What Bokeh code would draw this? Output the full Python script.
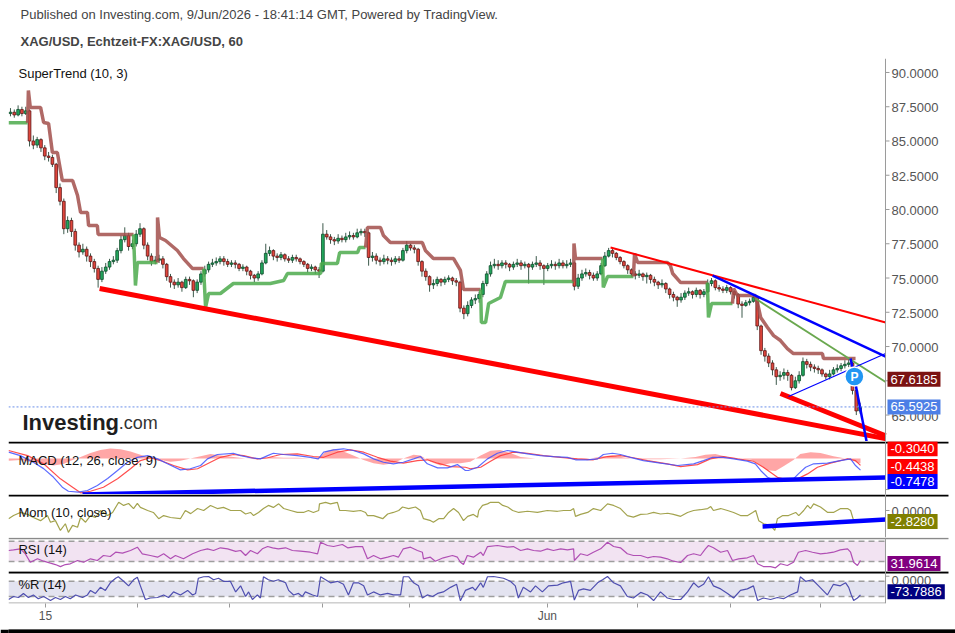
from bokeh.plotting import figure
from bokeh.models import Range1d, Span, Label, Title, FixedTicker, BoxAnnotation, ColumnDataSource
from bokeh.layouts import column
from bokeh.embed import file_html
from bokeh.resources import INLINE
from bokeh.core.properties import value

FONT = "Liberation Sans"

# ---------------- price data (2-hour bars, x = bar index) ----------------
first_open = 87.0
closes = [87.1, 86.9, 87.3, 87.0, 87.2, 85.0, 84.7, 85.1, 84.5, 83.9,
          83.8, 83.3, 81.6, 80.6, 78.6, 79.2, 78.4, 77.4, 76.9, 77.1,
          76.6, 76.2, 75.7, 74.9, 75.5, 75.8, 76.2, 76.3, 77.0, 77.8,
          78.1, 77.3, 77.5, 78.2, 78.6, 77.4, 76.6, 76.2, 76.3, 76.4,
          76.0, 75.1, 74.7, 74.5, 74.7, 74.3, 74.9, 74.8, 74.1, 74.7,
          75.3, 75.6, 76.0, 76.1, 76.2, 76.4, 76.2, 76.0, 76.1, 76.0,
          75.7, 75.8, 75.5, 75.2, 75.0, 75.3, 76.1, 76.8, 77.0, 76.6,
          76.5, 76.7, 76.4, 76.3, 76.5, 76.4, 76.2, 76.0, 75.7, 75.8,
          75.6, 75.5, 78.2, 78.0, 77.8, 77.7, 77.9, 77.8, 78.0, 78.1,
          78.0, 78.3, 78.4, 78.3, 76.5, 76.6, 76.3, 76.2, 76.4, 76.3,
          76.2, 76.4, 76.3, 77.0, 77.4, 77.2, 77.1, 76.2, 75.5, 75.1,
          74.5, 74.6, 74.9, 74.7, 74.9, 75.0, 74.8, 74.7, 72.8, 72.4,
          73.0, 73.4, 73.5, 73.8, 74.6, 75.3, 75.9, 76.0, 75.9, 76.1,
          76.0, 75.8, 76.0, 76.1, 75.9, 76.0, 75.8, 76.0, 76.1, 75.9,
          75.7, 75.9, 76.0, 75.9, 76.1, 75.9, 76.0, 76.1, 74.4, 75.0,
          75.3, 75.4, 75.2, 75.0, 75.3, 75.9, 76.6, 77.0, 76.8, 76.5,
          76.2, 75.9, 75.6, 75.3, 75.2, 75.3, 75.1, 75.2, 74.9, 74.7,
          74.5, 74.6, 74.2, 73.8, 73.6, 73.4, 73.6, 73.9, 74.0, 73.8,
          74.1, 73.8, 74.0, 74.6, 74.8, 74.3, 74.2, 74.1, 74.3, 74.0,
          73.8, 73.1, 73.0, 73.2, 73.3, 73.6, 71.5, 69.7, 69.3, 68.8,
          68.3, 67.8, 67.9, 68.1, 67.9, 67.0, 67.5, 67.9, 68.9, 68.7,
          68.5, 68.4, 68.3, 68.0, 67.8, 68.0, 68.3, 68.4, 68.6, 68.7,
          68.8, 66.8, 65.3, 65.59]
highs = [87.4, 87.3, 87.6, 87.5, 87.5, 87.3, 85.4, 85.3, 85.2, 84.7,
         84.2, 84.0, 83.4, 81.9, 80.8, 79.5, 79.4, 78.6, 77.6, 77.5,
         77.3, 76.8, 76.4, 75.9, 75.8, 76.1, 76.4, 76.6, 77.2, 78.1,
         78.7, 78.3, 77.8, 78.5, 79.0, 78.7, 77.6, 76.8, 76.6, 76.7,
         76.6, 76.1, 75.3, 74.9, 75.0, 74.8, 75.1, 75.1, 74.9, 74.9,
         75.5, 75.9, 76.2, 76.4, 76.5, 76.6, 76.6, 76.4, 76.3, 76.3,
         76.1, 76.0, 75.9, 75.6, 75.3, 75.5, 76.3, 77.5, 77.3, 77.1,
         76.8, 76.9, 76.8, 76.6, 76.7, 76.7, 76.5, 76.3, 76.1, 76.0,
         75.9, 75.8, 79.0, 78.5, 78.2, 78.0, 78.2, 78.1, 78.3, 78.4,
         78.3, 78.6, 78.6, 78.6, 78.4, 76.9, 76.8, 76.5, 76.7, 76.6,
         76.5, 76.6, 76.6, 77.2, 77.7, 77.5, 77.4, 77.2, 76.3, 75.7,
         75.2, 74.9, 75.1, 75.0, 75.1, 75.2, 75.1, 75.0, 74.8, 73.0,
         73.3, 73.6, 73.8, 74.0, 74.8, 75.5, 76.2, 76.4, 76.3, 76.3,
         76.3, 76.1, 76.2, 76.4, 76.3, 76.2, 76.1, 76.2, 76.6, 76.3,
         76.0, 76.1, 76.3, 76.2, 76.4, 76.3, 76.3, 76.4, 76.2, 75.3,
         75.6, 75.7, 75.6, 75.4, 75.5, 76.1, 76.9, 77.2, 77.2, 76.9,
         76.6, 76.3, 76.0, 75.7, 75.5, 75.6, 75.4, 75.4, 75.3, 75.1,
         74.8, 74.9, 74.7, 74.3, 74.0, 73.7, 73.9, 74.1, 74.3, 74.1,
         74.3, 74.2, 74.2, 74.9, 75.0, 74.9, 74.5, 74.4, 74.5, 74.4,
         74.1, 73.9, 73.3, 73.4, 73.5, 73.8, 73.7, 71.6, 69.9, 69.5,
         69.0, 68.5, 68.2, 68.4, 68.3, 68.0, 67.8, 68.2, 69.2, 69.1,
         68.9, 68.7, 68.6, 68.4, 68.1, 68.3, 68.5, 68.7, 68.8, 69.0,
         69.2, 68.9, 67.0, 65.9]
lows = [86.8, 86.7, 86.8, 86.8, 86.9, 84.6, 84.4, 84.5, 84.2, 83.6,
        83.5, 83.1, 81.2, 80.3, 78.2, 78.3, 78.0, 77.0, 76.5, 76.7,
        76.2, 75.8, 75.4, 74.3, 74.7, 75.3, 75.6, 76.0, 76.1, 76.8,
        77.6, 77.0, 77.1, 77.3, 78.0, 77.1, 76.3, 75.9, 76.0, 76.1,
        75.7, 74.8, 74.3, 74.2, 74.3, 74.0, 74.2, 74.5, 73.6, 73.9,
        74.5, 75.1, 75.4, 75.8, 75.9, 76.0, 75.9, 75.8, 75.8, 75.7,
        75.5, 75.5, 75.2, 74.9, 74.7, 74.8, 75.2, 76.0, 76.6, 76.3,
        76.2, 76.3, 76.2, 76.1, 76.1, 76.2, 76.0, 75.8, 75.4, 75.5,
        75.3, 75.0, 75.4, 77.8, 77.5, 77.4, 77.5, 77.6, 77.6, 77.8,
        77.8, 77.9, 78.1, 78.0, 75.9, 76.2, 76.0, 75.9, 76.0, 76.0,
        75.9, 76.0, 76.1, 76.2, 76.8, 77.0, 76.8, 75.9, 75.1, 74.8,
        74.0, 74.2, 74.4, 74.4, 74.5, 74.7, 74.5, 74.4, 72.5, 72.0,
        72.2, 72.8, 73.1, 73.2, 73.6, 74.4, 75.1, 75.7, 75.6, 75.7,
        75.7, 75.5, 75.6, 75.8, 75.6, 75.7, 74.6, 75.6, 75.8, 75.6,
        74.5, 75.5, 75.7, 75.6, 75.7, 75.7, 75.7, 75.8, 74.1, 74.2,
        74.8, 75.1, 74.9, 74.8, 74.8, 75.2, 75.8, 76.5, 76.5, 76.3,
        76.0, 75.7, 75.3, 75.1, 74.9, 75.0, 74.8, 74.6, 74.6, 74.4,
        74.2, 74.3, 73.9, 73.5, 73.3, 72.9, 73.2, 73.4, 73.7, 73.5,
        73.6, 73.5, 73.6, 73.9, 74.4, 74.1, 74.0, 73.9, 73.9, 73.8,
        73.5, 72.8, 72.1, 72.9, 73.0, 73.2, 71.2, 69.4, 68.9, 68.5,
        67.9, 67.2, 67.5, 67.6, 67.5, 66.8, 66.9, 67.3, 67.8, 68.4,
        68.2, 68.1, 68.0, 67.8, 67.6, 67.6, 67.9, 68.1, 68.2, 68.4,
        68.5, 66.5, 65.0, 65.1]

# SuperTrend (10, 3): vertices and trend (+1 up/green, -1 down/red)
st_x = [-0.5, 4.5,
        4.7, 5.2, 7.9, 8.7, 10.0, 11.0, 12.3, 13.6, 16.3, 17.6, 18.4, 20.2, 20.5, 22.8, 23.0, 32.3,
        32.8, 33.3, 38.6,
        38.6, 39.1, 40.7, 43.8, 45.4, 47.8, 50.7,
        51.2, 52.0, 55.1, 58.5, 68.2, 71.7, 72.7, 81.4, 81.6, 85.8, 86.4, 91.1, 91.6, 93.2,
        93.7, 97.1, 97.9, 99.7, 108.1, 108.9, 111.0, 116.3, 118.1, 118.9, 123.4,
        123.6, 124.7, 125.5, 128.6, 129.9, 147.8,
        147.9, 148.3, 155.4,
        155.6, 156.7, 163.5,
        163.8, 164.6, 172.4, 173.2, 173.8, 175.9, 182.9,
        183.2, 184.0, 189.5,
        189.8, 190.8, 195.5, 196.1, 196.9, 198.7, 200.3, 202.1, 203.9, 205.5, 213.1, 213.4, 221.8]
st_y = [86.33, 86.33,
        88.69, 87.45, 87.45, 86.35, 86.28, 84.16, 84.16, 82.12, 82.12, 81.02, 79.78, 79.78, 78.83, 78.83, 78.18, 78.18,
        74.45, 76.13, 76.13,
        79.42, 77.96, 77.74, 77.01, 76.42, 75.69, 75.69,
        72.85, 73.87, 73.87, 74.60, 74.60, 74.82, 75.33, 75.33, 76.06, 76.06, 76.86, 76.86, 77.23, 77.23,
        78.69, 78.69, 78.10, 77.59, 77.59, 77.01, 76.42, 76.42, 75.55, 74.16, 74.16,
        71.75, 71.75, 73.14, 73.58, 74.74, 74.74,
        77.52, 76.42, 76.42,
        74.31, 75.11, 75.11,
        76.79, 76.13, 76.13, 75.91, 75.33, 74.67, 74.67,
        72.12, 73.14, 73.14,
        74.23, 73.72, 73.72, 73.14, 72.12, 71.39, 70.80, 70.44, 69.85, 69.49, 69.49, 69.12, 69.12]
st_trend = ([1] * 2 + [-1] * 16 + [1] * 3 + [-1] * 7 + [1] * 14 + [-1] * 11 +
            [1] * 6 + [-1] * 3 + [1] * 3 + [-1] * 7 + [1] * 3 + [-1] * 13)

# drawn trend lines (bar index, price)
wedge_low_x = [23.4, 229.7]
wedge_low_y = [74.23, 63.28]
wedge_low2_x = [202.1, 229.7]
wedge_low2_y = [66.57, 63.49]
res_thin_x = [157.5, 229.7]
res_thin_y = [77.23, 71.75]
tri_up_x = [184.3, 229.7]
tri_up_y = [75.18, 69.27]
green_tl_x = [195.5, 229.7]
green_tl_y = [73.50, 67.41]
tri_low_x = [204.2, 229.7]
tri_low_y = [66.35, 69.49]
drop_tl_x = [220.5, 224.7]
drop_tl_y = [69.12, 63.07]
p_mark_x = [221.5]
p_mark_y = [67.81]
last_price = 65.5925
st_last = 67.6185
price_ticks = [65.0, 67.5, 70.0, 72.5, 75.0, 77.5, 80.0, 82.5, 85.0, 87.5, 90.0]

# MACD (12, 26, close, 9)
macd_x = [-0.5, 2.6, 6.0, 8.7, 11.3, 13.6, 15.2, 17.8, 20.2, 22.8,
          25.5, 28.1, 30.7, 33.3, 36.0, 38.6, 41.2, 44.6, 47.2, 49.9,
          51.7, 54.3, 58.5, 60.4, 63.0, 65.6, 67.5, 69.0, 71.7, 75.3,
          78.7, 80.8, 82.2, 84.8, 87.4, 90.0, 92.7, 95.3, 97.9, 100.5,
          103.1, 105.8, 107.6, 109.4, 112.1, 114.7, 117.3, 119.4, 120.2, 122.6,
          125.2, 127.8, 130.4, 133.1, 135.7, 139.1, 142.5, 146.2, 148.3, 151.4,
          154.1, 155.6, 158.0, 160.1, 162.7, 166.1, 170.6, 175.1, 179.3, 181.9,
          184.3, 187.1, 189.8, 193.4, 195.5, 196.9, 198.7, 200.3, 202.9, 205.5,
          206.8, 208.7, 210.8, 214.4, 217.8, 220.5, 221.8, 223.1]
macd_v = [0.41, 0.19, -0.24, -0.65, -1.21, -1.85, -2.11, -2.17, -2.06, -1.74,
          -1.29, -0.77, -0.24, 0.08, 0.19, -0.02, -0.34, -0.73, -0.66, -0.45,
          -0.02, 0.26, 0.34, 0.19, 0.05, -0.02, 0.19, 0.34, 0.26, 0.19,
          0.08, -0.02, 0.41, 0.56, 0.63, 0.52, 0.30, -0.02, -0.24, -0.34,
          -0.24, -0.02, 0.13, -0.34, -0.60, -0.60, -0.39, -0.77, -0.77, -0.56,
          -0.02, 0.34, 0.52, 0.41, 0.30, 0.19, 0.13, 0.08, -0.08, -0.08,
          -0.02, 0.26, 0.34, 0.26, 0.08, -0.13, -0.30, -0.45, -0.34, -0.13,
          0.08, 0.08, -0.02, -0.17, -0.34, -0.77, -1.21, -1.37, -1.37, -1.31,
          -0.99, -0.56, -0.34, -0.30, -0.13, -0.02, -0.45, -0.7478]
signal_x = [-0.5, 4.5, 8.7, 13.1, 16.3, 18.4, 21.0, 24.4, 28.1, 31.5,
            34.1, 36.7, 39.4, 42.8, 46.5, 49.1, 51.7, 55.1, 58.5, 61.2,
            64.8, 67.5, 70.9, 75.3, 79.5, 82.2, 85.8, 89.2, 92.7, 96.3,
            99.7, 103.1, 106.8, 109.4, 112.1, 115.5, 119.4, 120.7, 123.4, 126.0,
            128.6, 132.0, 135.7, 139.9, 144.4, 148.8, 153.0, 156.7, 160.1, 163.5,
            167.2, 172.4, 175.9, 180.3, 183.7, 187.1, 190.8, 195.0, 197.6, 201.3,
            203.9, 206.6, 209.2, 211.8, 215.2, 219.7, 221.8, 223.1]
signal_v = [0.52, 0.19, -0.34, -1.31, -1.85, -2.21, -2.11, -1.85, -1.31, -0.66,
            -0.13, 0.05, -0.13, -0.45, -0.73, -0.66, -0.34, 0.08, 0.26, 0.19,
            -0.02, 0.05, 0.26, 0.30, 0.13, 0.08, 0.41, 0.56, 0.41, 0.08,
            -0.17, -0.30, -0.13, -0.08, -0.30, -0.52, -0.56, -0.66, -0.56, -0.17,
            0.19, 0.41, 0.34, 0.19, 0.08, -0.02, -0.08, 0.13, 0.19, 0.05,
            -0.13, -0.34, -0.52, -0.39, -0.02, 0.13, -0.02, -0.17, -0.56, -1.21,
            -1.37, -1.31, -0.99, -0.56, -0.30, -0.02, -0.13, -0.4438]
hist_x = [-0.5, 2.6, 6.0, 8.7, 11.3, 13.9, 16.3, 18.4, 21.0, 23.6,
          26.2, 28.9, 31.5, 34.1, 36.7, 39.4, 42.0, 44.6, 47.2, 49.9,
          52.5, 55.1, 58.5, 61.7, 64.8, 68.2, 71.7, 75.3, 78.7, 80.8,
          82.7, 84.8, 87.4, 90.0, 92.7, 95.3, 97.9, 100.5, 103.1, 105.8,
          107.6, 110.2, 112.9, 115.5, 118.1, 120.7, 123.4, 126.0, 128.6, 131.2,
          133.9, 137.8, 141.7, 145.7, 148.8, 152.2, 155.6, 158.0, 161.4, 165.4,
          170.6, 175.9, 179.8, 182.4, 185.0, 188.2, 191.6, 194.8, 196.9, 198.7,
          200.8, 202.9, 205.5, 207.3, 210.0, 212.6, 216.0, 219.2, 221.0, 222.0,
          223.1]
hist_v = [-0.15, -0.1, -0.25, -0.35, -0.45, -0.35, -0.1, 0.1, 0.35, 0.55,
          0.65, 0.6, 0.45, 0.25, 0.05, -0.1, -0.2, -0.15, 0.0, 0.15,
          0.3, 0.2, 0.1, 0.0, -0.05, 0.1, 0.05, 0.05, 0.0, -0.05,
          0.45, 0.6, 0.45, 0.2, -0.1, -0.3, -0.4, -0.3, 0.0, 0.25,
          0.2, -0.2, -0.45, -0.3, -0.3, -0.2, 0.2, 0.5, 0.55, 0.35,
          0.1, 0.0, 0.0, 0.0, -0.1, 0.0, 0.15, 0.2, 0.05, -0.05,
          -0.05, 0.0, 0.1, 0.25, 0.3, 0.1, 0.0, -0.1, -0.45, -0.75,
          -0.8, -0.5, -0.1, 0.3, 0.4, 0.35, 0.15, 0.0, -0.1, -0.25,
          -0.304]
macd_tl_x = [18.9, 229.7]
macd_tl_y = [-2.32, -1.23]
macd_ticks = [-2.0]

# Mom (10, close)
mom_x = [-0.5, 0.8, 2.6, 4.5, 6.0, 7.9, 9.7, 10.5, 11.8, 13.1,
         14.4, 15.2, 16.3, 17.6, 18.4, 19.7, 21.0, 22.3, 23.6, 25.5,
         26.8, 28.4, 29.7, 31.0, 32.3, 33.3, 34.1, 36.0, 37.5, 38.9,
         40.2, 42.0, 44.6, 45.9, 47.3, 49.1, 50.7, 52.5, 54.3, 55.9,
         57.8, 60.4, 61.7, 63.0, 63.8, 65.1, 66.4, 67.7, 69.0, 70.4,
         71.7, 73.5, 75.3, 76.9, 78.2, 79.5, 80.9, 81.1, 82.7, 84.0,
         85.8, 86.4, 87.9, 90.0, 91.9, 93.2, 93.7, 95.3, 97.7, 99.0,
         100.5, 101.9, 102.9, 104.5, 106.3, 107.6, 108.4, 110.3, 111.0, 112.4,
         113.7, 115.0, 116.3, 117.6, 118.9, 120.0, 121.5, 122.6, 122.9, 123.9,
         125.2, 126.0, 128.1, 129.2, 130.5, 131.8, 133.4, 135.7, 138.3, 140.9,
         143.6, 145.2, 147.0, 147.8, 148.3, 149.6, 151.5, 153.0, 154.9, 156.7,
         158.3, 160.1, 161.9, 163.5, 165.4, 167.2, 168.8, 170.6, 172.5, 174.0,
         175.9, 177.7, 179.3, 181.1, 183.0, 183.8, 184.5, 186.4, 188.2, 189.8,
         191.6, 193.5, 194.8, 195.6, 196.4, 197.7, 199.5, 200.6, 201.3, 202.7,
         204.2, 206.1, 206.9, 208.2, 209.2, 210.0, 210.8, 212.6, 214.5, 216.0,
         217.9, 219.7, 220.5, 221.3, 222.3, 223.1]
mom_v = [-2.1, -1.3, -0.5, -1.0, -1.8, -2.6, -1.3, -3.0, -2.6, -5.1,
         -3.4, -5.6, -3.8, -4.3, -1.8, -3.0, -1.3, -1.8, 0.0, -1.3,
         -0.5, 2.1, 1.3, 1.8, 0.5, 1.8, 0.8, 0.0, -0.5, -2.1,
         -1.3, -1.8, -2.1, 0.0, -0.8, 0.5, 0.0, 1.3, 0.5, 0.8,
         0.0, 0.0, -0.9, -0.5, -1.3, -0.5, 0.5, 1.3, 0.8, 1.7,
         0.5, 0.0, -0.5, -0.5, 0.0, -0.5, 0.0, 1.7, 2.1, 1.7,
         2.1, 0.0, 0.0, -0.2, 0.0, -0.5, -1.3, -1.3, -2.1, -0.9,
         -0.5, 0.0, 0.9, 0.5, 0.9, 0.0, -2.1, -2.6, -3.0, -2.1,
         -2.1, -0.5, 0.5, -0.5, -2.6, -1.5, -1.0, -1.7, 0.0, 1.3,
         1.7, 2.1, 2.1, 1.3, 0.9, 0.0, -0.5, -0.2, -0.5, 0.0,
         -0.2, 0.0, 0.0, 0.5, -1.5, -1.0, -0.5, 0.5, 0.0, 1.7,
         1.3, 0.5, -1.3, -1.7, -1.0, -0.9, -0.5, -0.9, -0.7, -1.0,
         -1.5, -0.5, 0.0, 0.2, 0.5, 1.0, 0.0, 0.5, 0.0, -0.5,
         -1.3, -1.3, -0.5, 0.0, -2.6, -3.4, -3.8, -5.1, -2.1, -1.3,
         -1.3, -0.5, -1.3, 0.0, 1.3, 0.5, 1.7, 0.9, -0.5, -0.5,
         0.5, 0.5, 0.0, -2.6, -3.0, -2.828]
mom_tl_x = [197.4, 229.7]
mom_tl_y = [-4.10, -2.31]
mom_ticks = [0.0]

# RSI (14)
rsi_x = [-0.5, 0.8, 2.6, 3.9, 5.2, 7.1, 8.7, 10.5, 11.8, 13.1,
         14.4, 15.7, 17.6, 19.2, 21.0, 22.8, 24.4, 26.2, 27.6, 29.4,
         31.5, 33.3, 34.6, 36.7, 38.6, 40.2, 42.0, 43.3, 45.4, 47.8,
         49.9, 51.7, 53.3, 55.1, 57.0, 59.1, 60.4, 61.7, 63.0, 64.8,
         66.1, 67.5, 68.8, 70.3, 72.2, 74.0, 76.1, 78.7, 80.6, 81.4,
         83.2, 84.8, 87.1, 88.5, 90.6, 92.4, 93.7, 95.3, 97.1, 99.0,
         100.5, 101.8, 103.1, 105.0, 106.8, 108.1, 108.4, 110.2, 111.5, 113.6,
         116.0, 117.3, 118.1, 118.9, 119.9, 121.5, 123.4, 124.1, 125.2, 127.8,
         130.4, 132.0, 133.9, 135.7, 137.3, 139.1, 140.9, 142.5, 144.4, 146.2,
         147.8, 148.0, 149.6, 151.4, 153.0, 154.9, 156.7, 158.3, 160.1, 161.9,
         163.5, 165.4, 167.2, 168.8, 170.6, 172.4, 174.0, 175.9, 177.7, 179.3,
         181.1, 182.4, 183.2, 184.5, 186.4, 188.2, 189.5, 191.1, 193.4, 195.0,
         196.1, 197.6, 199.5, 200.8, 202.1, 203.9, 205.5, 206.8, 208.7, 210.5,
         212.6, 214.4, 216.0, 217.8, 219.7, 220.5, 221.3, 222.3, 223.1]
rsi_v = [51.7, 53.0, 55.0, 45.0, 28.6, 35.3, 30.6, 26.7, 24.0, 20.0,
         24.0, 25.5, 32.0, 28.6, 35.3, 32.0, 41.8, 39.9, 48.3, 46.4,
         51.7, 58.2, 45.2, 41.8, 38.5, 45.2, 35.3, 41.8, 35.3, 45.2,
         51.7, 55.0, 51.7, 57.0, 55.0, 50.0, 51.7, 41.8, 51.7, 45.2,
         55.0, 59.5, 57.0, 55.0, 57.0, 51.7, 50.3, 48.3, 45.2, 68.0,
         61.5, 59.5, 63.5, 57.0, 59.5, 59.5, 35.3, 41.8, 35.3, 38.5,
         41.8, 38.5, 55.0, 58.2, 51.7, 48.3, 35.3, 38.5, 30.6, 37.3,
         41.8, 38.5, 28.6, 24.0, 41.8, 38.5, 48.3, 41.8, 59.5, 61.5,
         58.2, 59.5, 51.7, 55.0, 51.7, 50.3, 55.0, 51.7, 55.0, 53.0,
         55.0, 32.0, 45.2, 41.8, 48.3, 55.0, 68.0, 59.5, 57.0, 45.2,
         41.8, 41.8, 37.3, 39.9, 38.5, 35.3, 30.6, 28.0, 41.8, 45.2,
         41.8, 55.0, 61.5, 57.0, 48.3, 51.7, 32.0, 35.3, 37.3, 41.8,
         25.5, 20.0, 20.0, 17.6, 25.5, 22.1, 28.6, 48.3, 51.7, 48.3,
         45.2, 46.4, 48.3, 53.0, 55.0, 48.3, 28.6, 22.1, 31.9614]
rsi_ticks = []

# Williams %R (14)
wr_x = [-0.5, 0.8, 2.1, 3.4, 4.7, 6.0, 7.3, 8.7, 10.5, 11.8,
        13.1, 14.4, 15.7, 17.1, 18.9, 20.2, 21.0, 22.3, 23.6, 24.9,
        26.2, 27.6, 28.3, 29.7, 31.0, 32.3, 33.3, 34.1, 35.4, 36.7,
        38.6, 40.2, 41.5, 42.8, 44.6, 46.5, 47.8, 48.6, 49.3, 50.7,
        52.0, 53.3, 54.6, 55.9, 57.7, 59.1, 60.4, 61.7, 62.5, 63.5,
        64.8, 65.6, 66.4, 67.7, 69.0, 70.3, 72.2, 73.0, 74.3, 75.6,
        76.6, 77.4, 79.3, 80.6, 81.4, 82.7, 84.0, 85.8, 87.4, 88.7,
        90.0, 91.3, 92.7, 93.7, 95.3, 97.1, 99.0, 100.5, 102.4, 103.1,
        104.5, 105.8, 107.1, 108.1, 109.4, 110.8, 112.1, 113.6, 115.5, 117.1,
        118.1, 119.4, 121.3, 122.0, 123.4, 124.1, 125.2, 126.8, 129.4, 131.2,
        132.5, 133.3, 134.6, 136.5, 137.8, 139.6, 141.2, 143.6, 145.1, 147.0,
        148.0, 149.1, 150.4, 152.2, 154.1, 155.4, 156.7, 158.3, 160.1, 161.9,
        163.5, 165.4, 167.2, 168.8, 170.6, 172.4, 174.0, 175.9, 177.7, 179.3,
        180.6, 181.9, 183.2, 184.5, 186.4, 188.2, 189.8, 191.6, 193.4, 195.0,
        196.1, 197.6, 199.5, 201.3, 202.9, 204.7, 206.6, 207.3, 208.7, 210.5,
        212.1, 214.4, 216.0, 217.8, 219.2, 220.0, 220.7, 221.3, 222.3, 223.1]
wr_v = [-92, -80, -84, -68, -84, -74, -89, -80, -96, -84,
        -92, -80, -89, -74, -84, -74, -56, -68, -44, -56,
        -26, -8, -2, -20, -38, -14, -4, -38, -92, -86,
        -84, -74, -84, -62, -74, -56, -74, -68, -8, -2,
        -1, -14, -8, -20, -20, -62, -38, -80, -62, -92,
        -74, -86, -2, -14, -20, -14, -26, -56, -74, -68,
        -80, -62, -74, -80, -2, -14, -26, -20, -32, -74,
        -26, -26, -38, -74, -62, -74, -68, -74, -74, -2,
        -2, -26, -38, -86, -74, -80, -68, -62, -44, -32,
        -97, -56, -44, -56, -26, -44, -2, -1, -8, -20,
        -38, -86, -44, -62, -38, -62, -38, -35, -26, -20,
        -94, -56, -50, -56, -26, -14, -1, -26, -38, -80,
        -86, -64, -74, -96, -62, -86, -92, -92, -62, -26,
        -44, -32, -2, -38, -50, -68, -86, -56, -50, -38,
        -96, -86, -92, -84, -89, -74, -62, -2, -20, -14,
        -38, -74, -32, -38, -26, -44, -74, -96, -86, -73.7886]
wr_ticks = [0.0]

# date axis
date_ticks = [9.2, 33.3, 57.5, 81.9, 104.7, 140.9, 164.6, 189.0, 212.6]
date_labels = ["15", "", "", "", "", "Jun", "", "", ""]

# ---------------- layout helpers ----------------
X_START, X_END = -0.52, 229.66          # data area: page x 8 .. 885
FRAME_W = 947                            # frame runs on to the window edge (price scale area)
PX = 1 / 3.81                            # one pixel in bar units
X_FULL = X_START + FRAME_W * PX
xr = Range1d(X_START, X_FULL)
AXIS_GREY = "#9a9a9a"
LABEL_GREY = "#555555"


def make_fig(frame_h, y0, y1, top=0):
    p = figure(frame_width=FRAME_W, frame_height=frame_h, x_range=xr, y_range=Range1d(y0, y1),
               output_backend="svg", toolbar_location=None, y_axis_location=None, x_axis_location=None,
               min_border_left=8, min_border_right=0, min_border_top=top, min_border_bottom=0,
               background_fill_color="white", border_fill_color="white", outline_line_color=None)
    p.grid.visible = False
    return p


def price_scale(p, ticks, dy=1):
    # vertical scale line, tick marks and tick labels drawn through the panel's y scale
    # (dy: screen-pixel shift of the label, positive = downwards)
    p.add_layout(Span(location=X_END, dimension="height", line_color=AXIS_GREY, line_width=1))
    if ticks:
        k = len(ticks)
        p.segment(x0=[X_END] * k, y0=ticks, x1=[X_END + 4 * PX] * k, y1=ticks,
                  line_color=AXIS_GREY, line_width=1)
        p.text(x=[X_END] * k, y=ticks, text=["%.4f" % t for t in ticks], x_offset=6, y_offset=dy,
               text_align="left", text_baseline="middle", text_font=value(FONT),
               text_font_size="13px", text_color=LABEL_GREY)


def value_box(p, y, text, color):
    p.add_layout(Label(x=X_END, y=y, text=text, x_offset=2, text_align="left", text_baseline="middle",
                       text_font=FONT, text_font_size="13px", text_color="white",
                       background_fill_color=color, background_fill_alpha=1.0, padding=3))


def panel_label(p, y, text):
    p.add_layout(Label(x=2.1, y=y, text=text, text_align="left", text_baseline="middle",
                       text_font=FONT, text_font_size="13px", text_color="#111111"))


def separator(p, y1, y0, frame_h, color, width):
    yy = y1 - (y1 - y0) / frame_h * 1.0
    p.segment(x0=[X_START], y0=[yy], x1=[X_END + 63 * PX], y1=[yy], line_color=color, line_width=width)


def hline(p, y, color, width, dash):
    p.segment(x0=[X_START], y0=[y], x1=[X_END], y1=[y], line_color=color, line_width=width, line_dash=dash)


# ---------------- main price panel ----------------
MAIN_Y0, MAIN_Y1 = 63.07, 91.02
main = make_fig(383, MAIN_Y0, MAIN_Y1, top=58)
main.title.text = "Published on Investing.com, 9/Jun/2026 - 18:41:14 GMT, Powered by TradingView."
main.title.text_font = FONT
main.title.text_font_size = "13px"
main.title.text_font_style = "normal"
main.title.align = "left"
main.title.offset = 12
main.title.standoff = 1
main.add_layout(Title(text="XAG/USD, Echtzeit-FX:XAG/USD, 60",
                      text_font=FONT, text_font_size="13px", text_font_style="bold",
                      align="left", offset=12, standoff=19), "above")

n = len(closes)
opens = [first_open] + closes[:-1]
idx = list(range(n))
up = [c >= o for o, c in zip(opens, closes)]
src = ColumnDataSource(dict(
    x=idx, o=opens, c=closes, h=highs[:n], l=lows[:n],
    top=[max(o, c) for o, c in zip(opens, closes)],
    bot=[min(o, c) for o, c in zip(opens, closes)],
    fill=["#22a65c" if u else "#e0463c" for u in up],
    edge=["#0d4d2b" if u else "#5c1515" for u in up],
))
main.segment(x0="x", y0="h", x1="x", y1="l", source=src, line_color="#3d5a4c", line_width=1)
main.vbar(x="x", top="top", bottom="bot", width=0.72, source=src,
          fill_color="fill", line_color="edge", line_width=0.8)

# SuperTrend lines
segs = []
for x, y, d in zip(st_x, st_y, st_trend):
    if not segs or segs[-1][0] != d:
        seg = [d, [], []]
        if segs:
            seg[1].append(segs[-1][1][-1])
            seg[2].append(segs[-1][2][-1])
        segs.append(seg)
    segs[-1][1].append(x)
    segs[-1][2].append(y)
for d, xs, ys in segs:
    main.line(xs, ys, line_color="#4caa4c" if d > 0 else "#a24f4b", line_width=3.5, line_alpha=0.85)

# drawings
main.line(wedge_low_x, wedge_low_y, line_color="#ff0000", line_width=5)
main.line(wedge_low2_x, wedge_low2_y, line_color="#ff0000", line_width=5)
main.line(res_thin_x, res_thin_y, line_color="#ff0000", line_width=2)
main.line(tri_up_x, tri_up_y, line_color="#0000ff", line_width=2.5)
main.line(green_tl_x, green_tl_y, line_color="#6aa84f", line_width=1.8)
main.line(tri_low_x, tri_low_y, line_color="#0000ff", line_width=1.2)
main.line(drop_tl_x, drop_tl_y, line_color="#0000ff", line_width=2.5)
hline(main, last_price, "#6b8ee8", 1, "2 2")
main.scatter(p_mark_x, p_mark_y, marker="circle", size=19, fill_color="#2196f3", line_color="white", line_width=1.5)
main.text(p_mark_x, p_mark_y, text=["P"], text_color="white", text_font=value(FONT), text_font_size="12px",
          text_font_style="bold", text_align="center", text_baseline="middle")
price_scale(main, price_ticks)

main.add_layout(Label(x=2.1, y=89.93, text="SuperTrend (10, 3)", text_align="left", text_baseline="middle",
                      text_font=FONT, text_font_size="13px", text_color="#111111"))
main.add_layout(Label(x=3.15, y=64.45, text="Investing", text_align="left", text_baseline="alphabetic",
                      text_font=FONT, text_font_size="22px", text_font_style="bold", text_color="#1e1e1e"))
main.add_layout(Label(x=28.4, y=64.45, text=".com", text_align="left", text_baseline="alphabetic",
                      text_font=FONT, text_font_size="18px", text_color="#333333"))
value_box(main, st_last, "67.6185", "#7b1212")
value_box(main, last_price, "65.5925", "#4d7fe6")

# ---------------- MACD panel ----------------
MACD_Y0, MACD_Y1 = -2.32, 1.10
macd = make_fig(53, MACD_Y0, MACD_Y1)
macd.varea(x=hist_x, y1=[0.0] * len(hist_x), y2=hist_v, fill_color="#ff4d4d", fill_alpha=0.5)
macd.line(signal_x, signal_v, line_color="#ff3b3b", line_width=1.2, line_alpha=0.9)
macd.line(macd_x, macd_v, line_color="#3f51ff", line_width=1.2, line_alpha=0.85)
macd.line(macd_tl_x, macd_tl_y, line_color="#0000ff", line_width=4.5)
price_scale(macd, macd_ticks, dy=-6)
separator(macd, MACD_Y1, MACD_Y0, 53, "#000000", 2.2)
panel_label(macd, -0.13, "MACD (12, 26, close, 9)")
value_box(macd, 0.64, "-0.3040", "#ff0000")
value_box(macd, -0.52, "-0.4438", "#ff0000")
value_box(macd, -1.48, "-0.7478", "#0000ff")

# ---------------- Momentum panel ----------------
MOM_Y0, MOM_Y1 = -6.92, 4.10
mom = make_fig(43, MOM_Y0, MOM_Y1)
mom.line(mom_x, mom_v, line_color="#a3a34e", line_width=1.2)
mom.line(mom_tl_x, mom_tl_y, line_color="#0000ff", line_width=4.5)
price_scale(mom, mom_ticks)
separator(mom, MOM_Y1, MOM_Y0, 43, "#000000", 2.2)
panel_label(mom, -0.5, "Mom (10, close)")
value_box(mom, -2.828, "-2.8280", "#808000")

# ---------------- RSI panel ----------------
RSI_Y0, RSI_Y1 = 10.3, 77.3
rsi = make_fig(34, RSI_Y0, RSI_Y1)
rsi.add_layout(BoxAnnotation(left=X_START, right=X_END, bottom=30, top=70, fill_color="#f2e3f2",
                             fill_alpha=1.0, line_color=None, level="underlay"))
hline(rsi, 70, "#9e9e9e", 1.5, "6 4")
hline(rsi, 30, "#9e9e9e", 1.5, "6 4")
rsi.line(rsi_x, rsi_v, line_color="#b04fb4", line_width=1.2)
price_scale(rsi, rsi_ticks)
separator(rsi, RSI_Y1, RSI_Y0, 34, "#8a8a8a", 1.6)
panel_label(rsi, 53.6, "RSI (14)")
value_box(rsi, 26.0, "31.9614", "#800080")

# ---------------- Williams %R panel (with the date axis) ----------------
WR_Y0, WR_Y1 = -107.8, 18.7
wr = figure(width=955, height=54, x_range=xr, y_range=Range1d(WR_Y0, WR_Y1),
            output_backend="svg", toolbar_location=None, y_axis_location=None, x_axis_location="below",
            min_border_left=8, min_border_right=0, min_border_top=0, min_border_bottom=19,
            background_fill_color="white", border_fill_color="white", outline_line_color=None)
wr.grid.visible = False
wr.add_layout(BoxAnnotation(left=X_START, right=X_END, bottom=-80, top=-20, fill_color="#e3e3f0",
                            fill_alpha=1.0, line_color=None, level="underlay"))
hline(wr, -20, "#9e9e9e", 1.5, "6 4")
hline(wr, -80, "#9e9e9e", 1.5, "6 4")
wr.line(wr_x, wr_v, line_color="#4f4fb0", line_width=1.2)
price_scale(wr, wr_ticks, dy=4)
separator(wr, WR_Y1, WR_Y0, 35, "#000000", 2.2)
hline(wr, WR_Y0 + (WR_Y1 - WR_Y0) / 35 * 0.5, AXIS_GREY, 1, "solid")
panel_label(wr, -33.0, "%R (14)")
value_box(wr, -61.0, "-73.7886", "#000080")
xa = wr.xaxis[0]
xa.ticker = FixedTicker(ticks=date_ticks)
xa.major_label_overrides = {t: lab for t, lab in zip(date_ticks, date_labels)}
xa.axis_line_color = None
xa.major_tick_line_color = AXIS_GREY
xa.minor_tick_line_color = None
xa.major_tick_out = 4
xa.major_tick_in = 0
xa.major_label_standoff = 1
xa.major_label_text_font = FONT
xa.major_label_text_font_size = "12px"
xa.major_label_text_color = LABEL_GREY

# black strip at the bottom of the screenshot
band = figure(width=955, height=8, x_range=xr, y_range=Range1d(0, 1), output_backend="svg",
              toolbar_location=None, x_axis_location=None, y_axis_location=None,
              min_border_left=0, min_border_right=0, min_border_top=0, min_border_bottom=0,
              background_fill_color="#000000", border_fill_color="#000000", outline_line_color=None)
band.grid.visible = False
band.add_layout(BoxAnnotation(fill_color="#000000", fill_alpha=1.0, line_color=None))

layout = column(main, macd, mom, rsi, wr, band, spacing=0)
open("out.html", "w").write(file_html(layout, INLINE))
